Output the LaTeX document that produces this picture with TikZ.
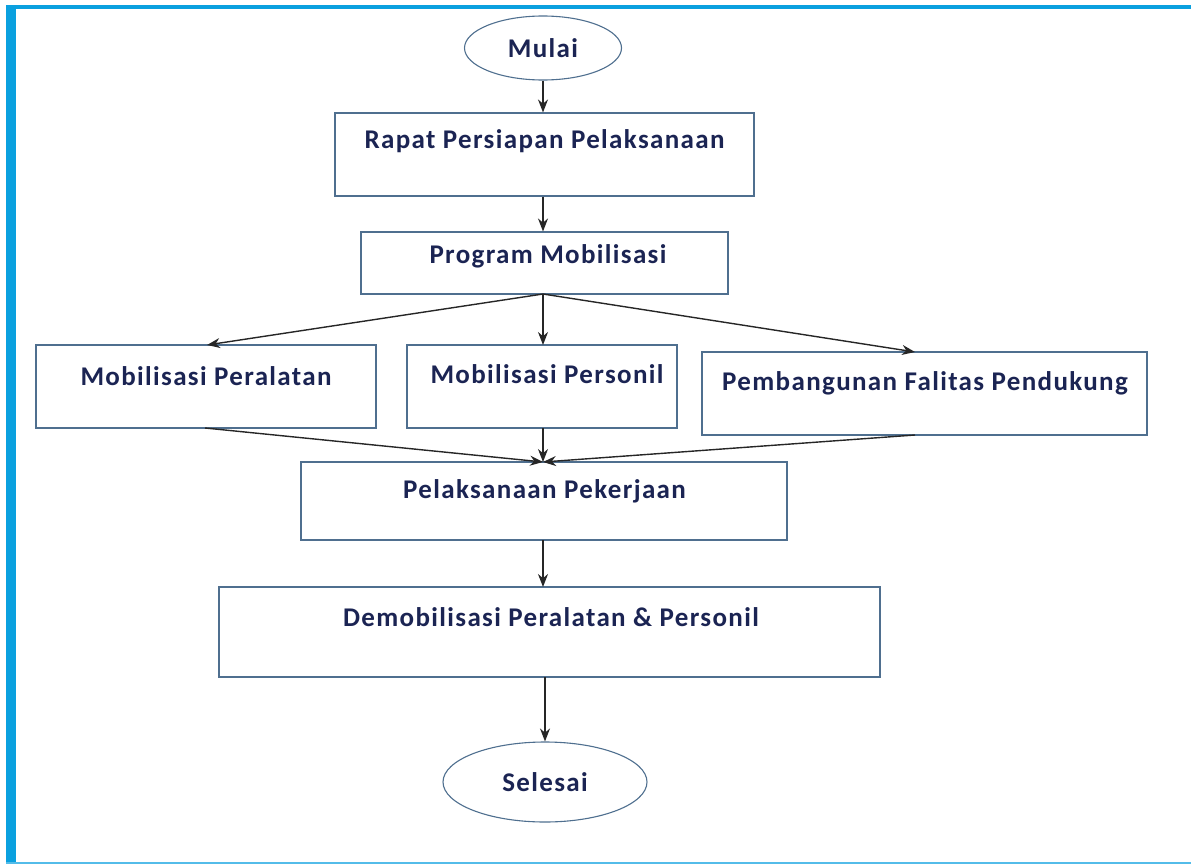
\documentclass[tikz,border=0pt]{standalone}
\usepackage{fontspec}
\setmainfont{Carlito}
\newfontfamily\boxfont[LetterSpace=5]{Carlito}
\usetikzlibrary{arrows.meta,shapes.geometric}
\definecolor{framebar}{HTML}{0AA0DF}
\definecolor{boxline}{HTML}{4F6F8F}
\definecolor{labelink}{HTML}{1B2453}
\begin{document}
\begin{tikzpicture}[x=1pt,y=-1pt,
  stepbox/.style={draw=boxline,line width=1.1pt,fill=white,rectangle,inner sep=0pt},
  term/.style={draw=boxline,line width=1.1pt,fill=white,ellipse,inner sep=0pt},
  caption/.style={text=labelink,font=\boxfont\bfseries\fontsize{27}{32}\selectfont,inner sep=0pt},
  flow/.style={draw=black!85,line width=1.4pt,-{Stealth[length=13pt,width=10pt]}}]
\useasboundingbox (0,0) rectangle (1191,864);
% outer frame
\fill[framebar] (6,5) rectangle (16,864);
\fill[framebar] (6,5) rectangle (1191,9);
\fill[framebar!70] (6,861.5) rectangle (1191,863.5);

% terminals
\node[term,minimum width=157pt,minimum height=64pt] (start) at (543,48) {};
\node[caption] (tstart) at (543,48) {Mulai};
\node[term,minimum width=204pt,minimum height=80pt] (stop) at (545,782) {};
\node[caption] (tstop) at (545,782) {Selesai};

% process boxes
\node[stepbox,minimum width=419pt,minimum height=83pt] (rapat) at (544.5,154.5) {};
\node[caption] (trapat) at (544.5,141) {Rapat Persiapan Pelaksanaan};
\node[stepbox,minimum width=367pt,minimum height=62pt] (prog) at (544.5,263) {};
\node[caption] (tprog) at (548,256) {Program Mobilisasi};
\node[stepbox,minimum width=340pt,minimum height=83pt] (alat) at (206,386.5) {};
\node[caption] (talat) at (206,376) {Mobilisasi Peralatan};
\node[stepbox,minimum width=270pt,minimum height=83pt] (pers) at (542,386.5) {};
\node[caption] (tpers) at (547,374) {Mobilisasi Personil};
\node[stepbox,minimum width=445pt,minimum height=83pt] (fas) at (924.5,393.5) {};
\node[caption] (tfas) at (925,383) {Pembangunan Falitas Pendukung};
\node[stepbox,minimum width=486pt,minimum height=78pt] (kerja) at (544,501) {};
\node[caption] (tkerja) at (544.5,491) {Pelaksanaan Pekerjaan};
\node[stepbox,minimum width=661pt,minimum height=90pt] (demob) at (549.5,632) {};
\node[caption] (tdemob) at (551,617) {Demobilisasi Peralatan \& Personil};

% connectors
\coordinate (fork) at (543,294);
\coordinate (join) at (543,462);
\draw[flow] (start.south) -- (start.south |- rapat.north);
\draw[flow] (rapat.south -| start.south) -- (start.south |- prog.north);
\draw[flow] (fork) -- (207,345);
\draw[flow] (fork) -- (543,345);
\draw[flow] (fork) -- (915,352);
\draw[flow] (205,428) -- (join);
\draw[flow] (543,428) -- (join);
\draw[flow] (915,435) -- (join);
\draw[flow] (543,540) -- (543,587);
\draw[flow] (545,677) -- (stop.north);
\end{tikzpicture}
\end{document}
